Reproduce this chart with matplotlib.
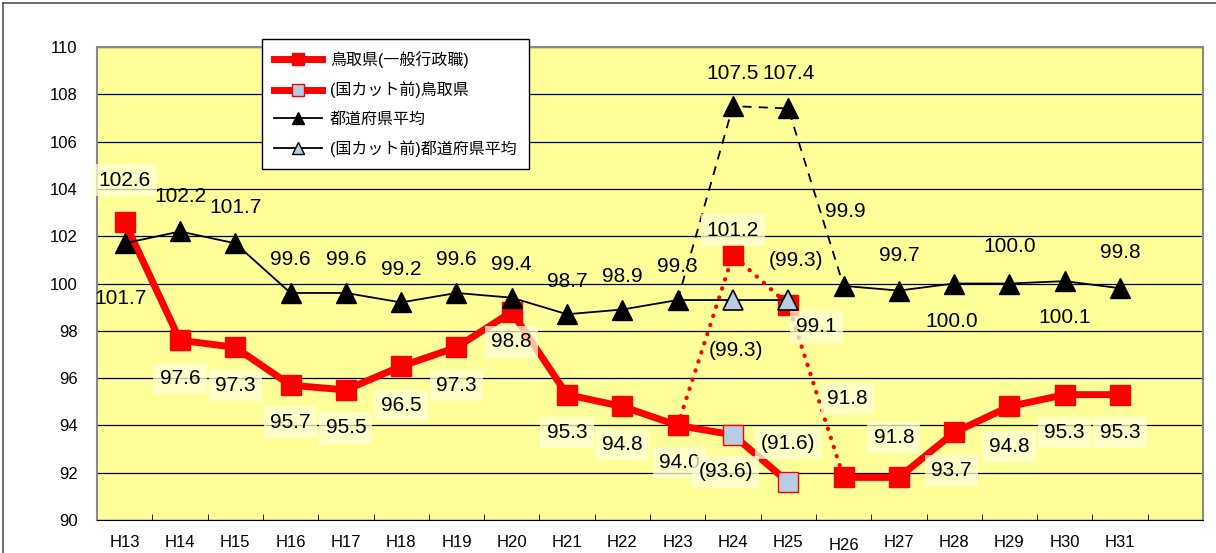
import matplotlib
matplotlib.use('Agg')
import matplotlib.pyplot as plt
import matplotlib.transforms as mtransforms
from matplotlib.lines import Line2D

plt.rcParams['font.family'] = ['Liberation Sans', 'Noto Sans CJK JP', 'DejaVu Sans']

# data
years = ['H13', 'H14', 'H15', 'H16', 'H17', 'H18', 'H19', 'H20', 'H21', 'H22',
         'H23', 'H24', 'H25', 'H26', 'H27', 'H28', 'H29', 'H30', 'H31']
tottori = [102.6, 97.6, 97.3, 95.7, 95.5, 96.5, 97.3, 98.8, 95.3, 94.8,
           94.0, 101.2, 99.1, 91.8, 91.8, 93.7, 94.8, 95.3, 95.3]
pref_avg = [101.7, 102.2, 101.7, 99.6, 99.6, 99.2, 99.6, 99.4, 98.7, 98.9,
            99.3, 107.5, 107.4, 99.9, 99.7, 100.0, 100.0, 100.1, 99.8]
cut_years = ['H24', 'H25']
tottori_precut = [93.6, 91.6]
pref_precut = [99.3, 99.3]

# label offsets in pixels (dx, dy), layout only
tottori_off = [(0, 42), (0, -38), (0, -38), (0, -37), (0, -38), (0, -39), (0, -38),
               (0, -30), (0, -38), (0, -38), (2, -37), (0, 25), (28, -22), (4, 79),
               (-5, 40), (-3, -38), (0, -40), (0, -38), (0, -38)]
pref_off = [(-4, -55), (0, 35), (0, 36), (0, 33), (0, 33), (0, 33), (0, 33),
            (0, 33), (0, 33), (0, 33), (0, 34), (0, 33), (0, 35), (2, 74),
            (0, 35), (-2, -38), (0, 37), (0, -36), (0, 36)]
tottori_cut_off = [(-7, -37), (0, 39)]
pref_cut_off = [(3, -50), (8, 40)]

RED = '#FF0000'
LIGHTBLUE = '#B8CCE4'

fig = plt.figure(figsize=(12.16, 5.53), dpi=100)
ax = fig.add_axes([97 / 1216, 33 / 553, 1106 / 1216, 473 / 553])
ax.set_facecolor('#FFFF99')

x = list(range(len(years)))
ci = [years.index(y) for y in cut_years]
i23 = years.index('H23')
i26 = years.index('H26')

# red series
ax.plot(x[:i23 + 1] + ci, tottori[:i23 + 1] + tottori_precut, color=RED, lw=5, zorder=3)
ax.plot(x[i26:], tottori[i26:], color=RED, lw=5, zorder=3)
ax.plot(x[i23:i26 + 1], tottori[i23:i26 + 1], color=RED, lw=3,
        linestyle=(0, (0.1, 2.2)), dash_capstyle='round', zorder=3)
ax.plot(x, tottori, 's', color=RED, ms=15, zorder=4)
ax.plot(ci, tottori_precut, 's', mfc=LIGHTBLUE, mec=RED, mew=1, ms=14, zorder=4)

# black series
ax.plot(x[:i23 + 1] + ci, pref_avg[:i23 + 1] + pref_precut, color='black', lw=1.3, zorder=5)
ax.plot(x[i26:], pref_avg[i26:], color='black', lw=1.3, zorder=5)
ax.plot(x[i23:i26 + 1], pref_avg[i23:i26 + 1], color='black', lw=1.3,
        linestyle=(0, (5, 4)), zorder=5)
ax.plot(x, pref_avg, '^', color='black', ms=15, zorder=6)
ax.plot(ci, pref_precut, '^', mfc=LIGHTBLUE, mec='black', mew=1.2, ms=15, zorder=6)

box = dict(boxstyle='square,pad=0.3', fc='#FFFFD8', ec='none', alpha=0.75)
fs = 15
for i, v in enumerate(tottori):
    ax.annotate(f'{v:.1f}', (i, v), xytext=tottori_off[i], textcoords='offset pixels',
                ha='center', va='center', fontsize=fs, bbox=box, zorder=7)
for k, v in enumerate(tottori_precut):
    ax.annotate(f'({v:.1f})', (ci[k], v), xytext=tottori_cut_off[k], textcoords='offset pixels',
                ha='center', va='center', fontsize=fs, bbox=box, zorder=7)
for i, v in enumerate(pref_avg):
    ax.annotate(f'{v:.1f}', (i, v), xytext=pref_off[i], textcoords='offset pixels',
                ha='center', va='center', fontsize=fs, zorder=7)
for k, v in enumerate(pref_precut):
    ax.annotate(f'({v:.1f})', (ci[k], v), xytext=pref_cut_off[k], textcoords='offset pixels',
                ha='center', va='center', fontsize=fs, zorder=7)

# axes
ax.set_xlim(-0.5, len(years) + 0.5)
ax.set_ylim(90, 110)
ax.set_yticks(range(90, 111, 2))
ax.yaxis.grid(True, color='black', lw=0.9)
ax.set_axisbelow(True)
ax.set_xticks(x)
ax.set_xticklabels(years)
ax.set_xticks([k + 0.5 for k in range(len(years) + 1)], minor=True)
ax.tick_params(axis='x', which='major', length=0, pad=11, labelsize=12)
ax.tick_params(axis='x', which='minor', direction='in', length=4, color='black')
ax.tick_params(axis='y', length=0, pad=14, labelsize=12)
for s in ['top', 'right', 'left']:
    ax.spines[s].set_color('#888888')
    ax.spines[s].set_linewidth(1.5)
ax.spines['bottom'].set_color('black')

lab26 = ax.get_xticklabels()[i26]
lab26.set_transform(lab26.get_transform() +
                    mtransforms.ScaledTranslation(0, -3 / 100, fig.dpi_scale_trans))

# legend
handles = [
    Line2D([], [], color=RED, lw=5, marker='s', ms=8, mfc=RED, mec=RED),
    Line2D([], [], color=RED, lw=5, marker='s', ms=8, mfc=LIGHTBLUE, mec=RED),
    Line2D([], [], color='black', lw=1.3, marker='^', ms=8),
    Line2D([], [], color='black', lw=1.3, marker='^', ms=8, mfc=LIGHTBLUE, mec='black'),
]
labels = ['鳥取県(一般行政職)', '(国カット前)鳥取県', '都道府県平均', '(国カット前)都道府県平均']
leg = ax.legend(handles, labels, loc='upper left', bbox_to_anchor=(262 / 1216, 1 - 39 / 553),
                bbox_transform=fig.transFigure, fancybox=False, framealpha=1,
                edgecolor='black', fontsize=11.5, handlelength=3.0, labelspacing=0.85,
                borderpad=0.75, handletextpad=0.5, borderaxespad=0)
leg.get_frame().set_linewidth(1)
leg.set_zorder(10)

# outer border
fig.add_artist(Line2D([3 / 1216, 1], [1 - 3 / 553, 1 - 3 / 553], color='#555555', lw=1.2))
fig.add_artist(Line2D([3 / 1216, 3 / 1216], [0, 1 - 3 / 553], color='#555555', lw=1.2))

fig.savefig('out.png', dpi=100)
